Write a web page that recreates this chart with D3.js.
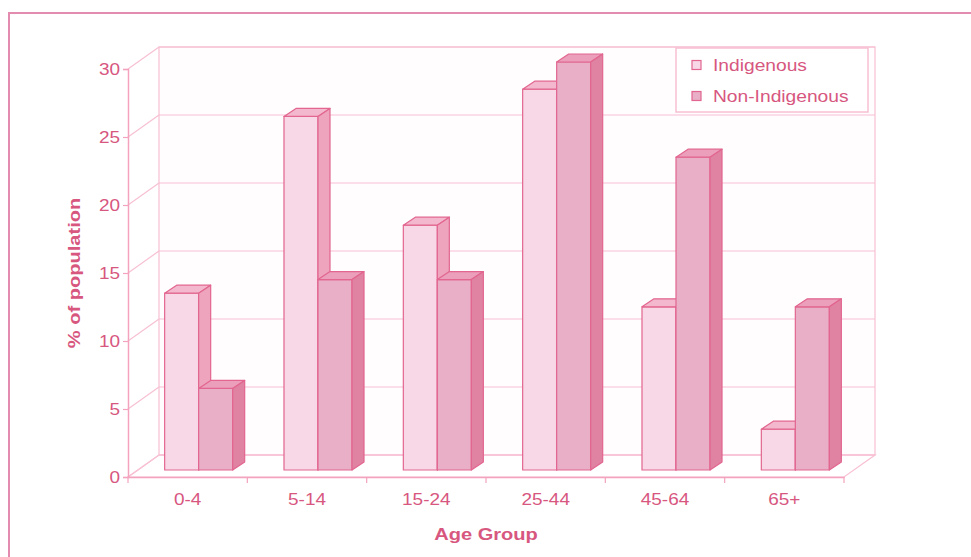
<!DOCTYPE html>
<html>
<head>
<meta charset="utf-8">
<script src="https://cdn.jsdelivr.net/npm/d3@7"></script>
<style>
  html, body { margin: 0; padding: 0; background: #ffffff; }
  svg { display: block; font-family: "Liberation Sans", Arial, sans-serif; }
</style>
</head>
<body>
<svg id="chart" width="971" height="557"></svg>
<script>
// Age distribution data (% of population)
const categories = ["0-4", "5-14", "15-24", "25-44", "45-64", "65+"];
const seriesNames = ["Indigenous", "Non-Indigenous"];
const indigenous = [13, 26, 18, 28, 12, 3];
const nonIndigenous = [6, 14, 14, 30, 23, 12];
const yTickValues = [0, 5, 10, 15, 20, 25, 30];

const series = [
  { name: seriesNames[0], values: indigenous,
    front: "#f8d8e6", top: "#f3b8cd", side: "#efa4be" },
  { name: seriesNames[1], values: nonIndigenous,
    front: "#e9afc7", top: "#eb9fbb", side: "#e082a2" }
];

const textColor = "#d7577f";
const gridColor = "#f8c0d3";
const axisColor = "#f3a3bd";
const barStroke = "#e2668f";

const svg = d3.select("#chart");

// outer frame
svg.append("rect")
  .attr("x", 9).attr("y", 13).attr("width", 1000).attr("height", 600)
  .attr("fill", "none").attr("stroke", "#e48bb0").attr("stroke-width", 2);

// front plane of the plot
const plotLeft = 128, plotRight = 844, plotTop = 69, plotBottom = 477;
// depth of the 3D box
const DX = 31, DY = -22;
// bar placement inside the depth
const BOX = 11, BOY = -7, BDX = 12, BDY = -8;

const x = d3.scaleBand().domain(categories).range([plotLeft, plotRight]);
const y = d3.scaleLinear().domain([0, 30]).range([plotBottom, plotTop]);
const inner = d3.scaleBand().domain(seriesNames)
  .range([-x.bandwidth() * 0.285, x.bandwidth() * 0.285]);

const grid = svg.append("g");

// back wall
grid.append("rect")
  .attr("x", plotLeft + DX).attr("y", y(30) + DY)
  .attr("width", plotRight - plotLeft).attr("height", y(0) - y(30))
  .attr("fill", "#fffdfe").attr("stroke", gridColor).attr("stroke-width", 1.2);

// horizontal grid lines on back wall and side wall
yTickValues.forEach(v => {
  grid.append("line")
    .attr("x1", plotLeft + DX).attr("x2", plotRight + DX)
    .attr("y1", y(v) + DY).attr("y2", y(v) + DY)
    .attr("stroke", gridColor).attr("stroke-width", 1.2);
  grid.append("line")
    .attr("x1", plotLeft).attr("x2", plotLeft + DX)
    .attr("y1", y(v)).attr("y2", y(v) + DY)
    .attr("stroke", gridColor).attr("stroke-width", 1.2);
});

// floor
grid.append("path")
  .attr("d", `M${plotLeft},${y(0)}L${plotRight},${y(0)}L${plotRight + DX},${y(0) + DY}L${plotLeft + DX},${y(0) + DY}Z`)
  .attr("fill", "none").attr("stroke", gridColor).attr("stroke-width", 1.2);

// bars
const bars = svg.append("g");
categories.forEach((c, i) => {
  series.forEach(s => {
    const v = s.values[i];
    const x0 = x(c) + x.bandwidth() / 2 + inner(s.name) + BOX;
    const w = inner.bandwidth();
    const yt = y(v) + BOY;
    const yb = y(0) + BOY;
    const g = bars.append("g")
      .attr("stroke", barStroke).attr("stroke-width", 1.2)
      .attr("stroke-linejoin", "round");
    g.append("rect")
      .attr("x", x0).attr("y", yt).attr("width", w).attr("height", yb - yt)
      .attr("fill", s.front);
    g.append("path")
      .attr("d", `M${x0},${yt}L${x0 + BDX},${yt + BDY}L${x0 + w + BDX},${yt + BDY}L${x0 + w},${yt}Z`)
      .attr("fill", s.top);
    g.append("path")
      .attr("d", `M${x0 + w},${yt}L${x0 + w + BDX},${yt + BDY}L${x0 + w + BDX},${yb + BDY}L${x0 + w},${yb}Z`)
      .attr("fill", s.side);
  });
});

// widen glyphs to the chart's typeface proportions
function stretch(sel, k) {
  sel.each(function () {
    const len = this.getComputedTextLength();
    d3.select(this).attr("textLength", len * k).attr("lengthAdjust", "spacingAndGlyphs");
  });
}

// y axis
const yAxis = svg.append("g")
  .attr("transform", `translate(${plotLeft},0)`)
  .call(d3.axisLeft(y).tickValues(yTickValues).tickSize(5).tickPadding(3));
yAxis.select(".domain").attr("stroke", axisColor).attr("stroke-width", 1.5);
yAxis.selectAll(".tick line").attr("stroke", axisColor).attr("stroke-width", 1.2);
yAxis.selectAll(".tick text")
  .attr("fill", textColor).attr("font-size", 16.5)
  .attr("font-family", "Liberation Sans, Arial, sans-serif")
  .call(stretch, 1.15);

// x axis: labels at category centres, ticks at category boundaries
const xAxis = svg.append("g")
  .attr("transform", `translate(0,${plotBottom})`)
  .call(d3.axisBottom(x).tickSize(0).tickPadding(16));
xAxis.select(".domain").attr("stroke", axisColor).attr("stroke-width", 1.5);
xAxis.selectAll(".tick text")
  .attr("fill", textColor).attr("font-size", 16.5)
  .attr("font-family", "Liberation Sans, Arial, sans-serif")
  .call(stretch, 1.15);
const bounds = categories.map(c => x(c)).concat([x(categories[categories.length - 1]) + x.bandwidth()]);
xAxis.selectAll(".bound").data(bounds).join("line")
  .attr("class", "bound")
  .attr("x1", d => d).attr("x2", d => d).attr("y1", 0).attr("y2", 6)
  .attr("stroke", axisColor).attr("stroke-width", 1.2);

// axis titles
svg.append("text")
  .attr("x", (plotLeft + plotRight) / 2).attr("y", 540)
  .attr("text-anchor", "middle").attr("font-size", 17).attr("font-weight", "bold")
  .attr("fill", textColor).text("Age Group")
  .call(stretch, 1.18);
svg.append("text")
  .attr("transform", `translate(80,${(plotTop + plotBottom) / 2}) rotate(-90)`)
  .attr("text-anchor", "middle").attr("font-size", 17).attr("font-weight", "bold")
  .attr("fill", textColor).text("% of population")
  .call(stretch, 1.18);

// legend
const legend = svg.append("g");
legend.append("rect")
  .attr("x", 676).attr("y", 48).attr("width", 192).attr("height", 64)
  .attr("fill", "#ffffff").attr("stroke", gridColor).attr("stroke-width", 1.5);
series.forEach((s, i) => {
  const cy = 65 + i * 31;
  legend.append("rect")
    .attr("x", 692).attr("y", cy - 4.5).attr("width", 9).attr("height", 9)
    .attr("fill", s.front).attr("stroke", barStroke).attr("stroke-width", 1.2);
  legend.append("text")
    .attr("x", 713).attr("y", cy).attr("dy", "0.36em")
    .attr("font-size", 16).attr("fill", textColor).text(s.name)
    .call(stretch, 1.2);
});
</script>
</body>
</html>
